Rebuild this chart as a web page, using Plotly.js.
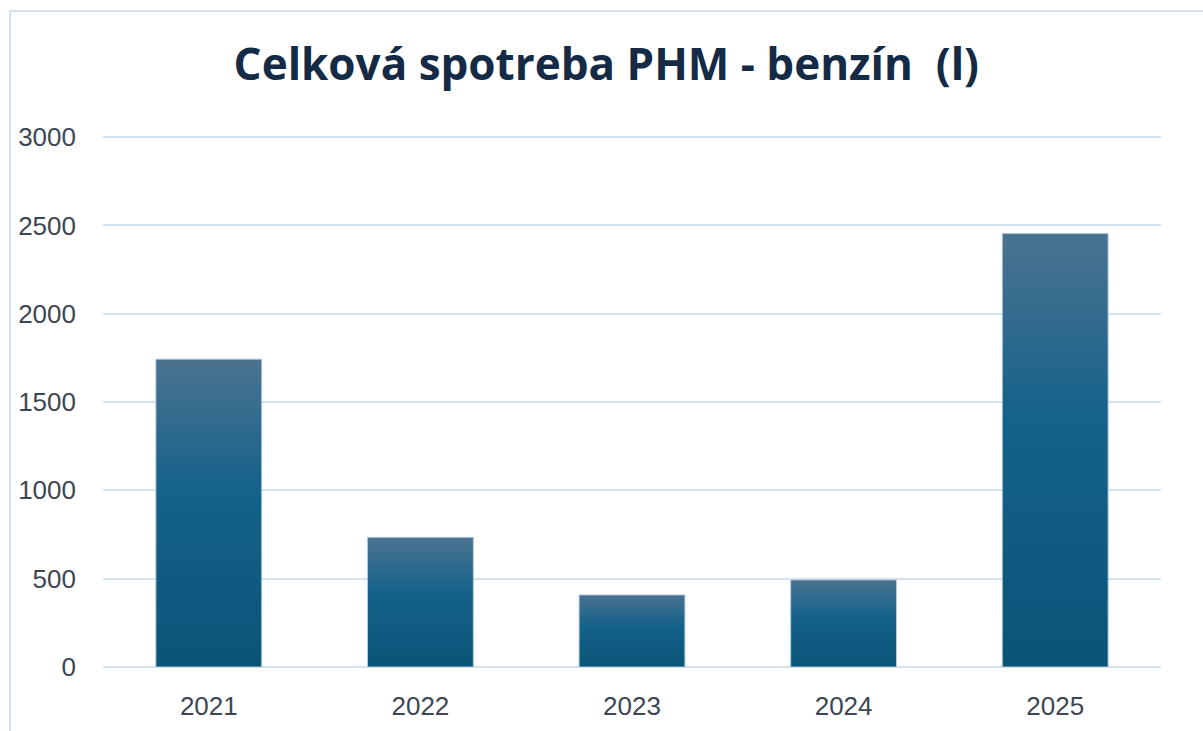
<!DOCTYPE html>
<html>
<head>
<meta charset="utf-8">
<script src="https://cdn.plot.ly/plotly-3.0.1.min.js"></script>
<style>
  html, body { margin: 0; padding: 0; background: #ffffff; overflow: hidden; }
  #wrap { position: relative; width: 1203px; height: 731px; }
  #chart { position: absolute; left: 0; top: 0; width: 1203px; height: 731px; }
  #frame { position: absolute; left: 9px; top: 10px; width: 1300px; height: 800px;
           border-top: 2px solid #d3e2f1; border-left: 2px solid #d3e2f1; pointer-events: none; }
</style>
</head>
<body>
<div id="wrap">
  <div id="chart"></div>
  <div id="frame"></div>
</div>
<script>
const titleText = "Celková spotreba PHM - benzín&nbsp;&nbsp;(l)";
const years = ["2021", "2022", "2023", "2024", "2025"];
const fuelLitres = [1743, 734, 408, 493, 2454];
const yTickValues = [0, 500, 1000, 1500, 2000, 2500, 3000];

const trace = {
  type: "bar",
  x: years,
  y: fuelLitres,
  width: 0.5,
  marker: { color: "#14618a", line: { color: "rgba(175,202,226,0.9)", width: 1 } },
  hoverinfo: "x+y"
};

const layout = {
  width: 1203,
  height: 731,
  margin: { l: 103, r: 42, t: 135, b: 64, pad: 0 },
  paper_bgcolor: "#ffffff",
  plot_bgcolor: "#ffffff",
  showlegend: false,
  title: {
    text: "<b>" + titleText + "</b>",
    font: { family: "Open Sans, sans-serif", size: 44, color: "#142a45" },
    x: 0.504, xref: "container", xanchor: "center",
    y: 1 - 65 / 731, yref: "container", yanchor: "middle"
  },
  xaxis: {
    type: "category",
    tickfont: { family: "Liberation Sans, Arial, sans-serif", size: 26, color: "#3d4654" },
    ticks: "",
    ticklabelstandoff: 21,
    showline: false,
    showgrid: false,
    zeroline: false
  },
  yaxis: {
    range: [0, 3012],
    tickvals: yTickValues,
    ticktext: yTickValues.map(String),
    tickfont: { family: "Liberation Sans, Arial, sans-serif", size: 26, color: "#3d4654" },
    ticks: "",
    ticklabelstandoff: 26,
    showgrid: true,
    gridcolor: "#d3e2f1",
    gridwidth: 2,
    zeroline: true,
    zerolinecolor: "#d3e2f1",
    zerolinewidth: 2,
    showline: false
  }
};

Plotly.newPlot("chart", [trace], layout, { displayModeBar: false, staticPlot: true }).then(function (gd) {
  const svg = gd.querySelector("svg.main-svg");
  const ns = "http://www.w3.org/2000/svg";
  let defs = svg.querySelector("defs");
  if (!defs) { defs = document.createElementNS(ns, "defs"); svg.insertBefore(defs, svg.firstChild); }
  const grad = document.createElementNS(ns, "linearGradient");
  grad.setAttribute("id", "barGrad");
  grad.setAttribute("x1", "0"); grad.setAttribute("y1", "0");
  grad.setAttribute("x2", "0"); grad.setAttribute("y2", "1");
  [["0", "#4b7390"], ["0.42", "#15628a"], ["1", "#0a5477"]].forEach(function (s) {
    const st = document.createElementNS(ns, "stop");
    st.setAttribute("offset", s[0]);
    st.setAttribute("stop-color", s[1]);
    grad.appendChild(st);
  });
  defs.appendChild(grad);
  gd.querySelectorAll(".barlayer .point path").forEach(function (p) {
    p.style.fill = "url(#barGrad)";
  });
});
</script>
</body>
</html>
